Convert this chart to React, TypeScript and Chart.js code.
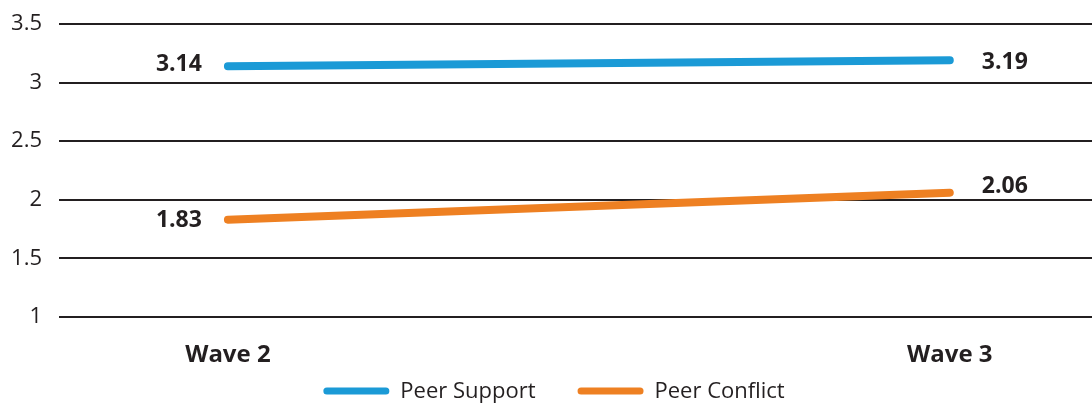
import React, { useEffect, useRef } from "react";
import { Chart, registerables } from "chart.js";

Chart.register(...registerables);

const waves = ["Wave 2", "Wave 3"];
const peerSupport = [3.14, 3.19];
const peerConflict = [1.83, 2.06];
const yTicks = [1, 1.5, 2, 2.5, 3, 3.5];

const FONT = "'Open Sans', 'Noto Sans', sans-serif";
const BLUE = "#1b9ad6";
const ORANGE = "#ee8022";
const TEXT = "#231f20";

const labelPlugin = {
  id: "valueLabels",
  afterDatasetsDraw(chart: any) {
    const ctx = chart.ctx;
    ctx.save();
    ctx.font = `bold 23px ${FONT}`;
    ctx.fillStyle = TEXT;
    ctx.textBaseline = "middle";
    chart.data.datasets.forEach((ds: any, di: number) => {
      const meta = chart.getDatasetMeta(di);
      meta.data.forEach((pt: any, i: number) => {
        const v = ds.data[i].y;
        const txt = v.toFixed(2);
        if (i === 0) {
          ctx.textAlign = "right";
          ctx.fillText(txt, pt.x - 26, pt.y + (di === 1 ? 1 : -2));
        } else {
          ctx.textAlign = "left";
          ctx.fillText(txt, pt.x + 32, pt.y + (di === 1 ? -6 : 2));
        }
      });
    });
    ctx.restore();
  },
};

const legendPlugin = {
  id: "bottomLegend",
  afterDraw(chart: any) {
    const ctx = chart.ctx;
    const boxW = 66;
    const boxH = 7;
    const gap = 11;
    const itemGap = 42;
    const cy = 391;
    const centerX = 554;
    ctx.save();
    ctx.font = `22px ${FONT}`;
    ctx.textBaseline = "middle";
    ctx.textAlign = "left";
    const items = chart.data.datasets.map((ds: any) => ({
      label: ds.label,
      color: ds.borderColor,
      w: ctx.measureText(ds.label).width,
    }));
    const total =
      items.reduce((s: number, it: any) => s + boxW + gap + it.w, 0) +
      itemGap * (items.length - 1);
    let x = centerX - total / 2;
    items.forEach((it: any) => {
      ctx.fillStyle = it.color;
      ctx.beginPath();
      (ctx as any).roundRect(x, cy - boxH / 2, boxW, boxH, boxH / 2);
      ctx.fill();
      ctx.fillStyle = TEXT;
      ctx.fillText(it.label, x + boxW + gap, cy + 1);
      x += boxW + gap + it.w + itemGap;
    });
    ctx.restore();
  },
};

export default function App() {
  const ref = useRef<HTMLCanvasElement>(null);
  useEffect(() => {
    document.body.style.margin = "0";
    const chart = new Chart(ref.current!, {
      type: "line",
      data: {
        datasets: [
          {
            label: "Peer Support",
            data: peerSupport.map((y, i) => ({ x: i, y })),
            borderColor: BLUE,
            backgroundColor: BLUE,
            borderWidth: 8,
            borderCapStyle: "round",
            pointRadius: 0,
          },
          {
            label: "Peer Conflict",
            data: peerConflict.map((y, i) => ({ x: i, y })),
            borderColor: ORANGE,
            backgroundColor: ORANGE,
            borderWidth: 8,
            borderCapStyle: "round",
            pointRadius: 0,
          },
        ],
      },
      options: {
        animation: false,
        responsive: false,
        maintainAspectRatio: false,
        layout: { autoPadding: false, padding: { top: 24, right: 0, bottom: 36, left: 0 } },
        plugins: {
          tooltip: { enabled: false },
          legend: { display: false },
        },
        scales: {
          x: {
            type: "linear",
            min: -0.234,
            max: 1.197,
            grid: { display: false },
            border: { display: false },
            afterBuildTicks: (scale: any) => {
              scale.ticks = waves.map((_, i) => ({ value: i }));
            },
            afterFit: (scale: any) => {
              scale.height = 53;
              scale.paddingLeft = 0;
              scale.paddingRight = 0;
            },
            ticks: {
              padding: 16,
              maxRotation: 0,
              color: TEXT,
              font: { family: FONT, size: 24, weight: "bold" },
              callback: (v: any) => waves[v] ?? "",
            },
          },
          y: {
            min: 1,
            max: 3.5,
            afterBuildTicks: (scale: any) => {
              scale.ticks = yTicks.map((v) => ({ value: v }));
            },
            afterFit: (scale: any) => {
              scale.width = 59;
              scale.paddingTop = 0;
              scale.paddingBottom = 0;
            },
            grid: { color: TEXT, lineWidth: 2, drawTicks: false },
            border: { display: false },
            ticks: {
              padding: 17,
              color: TEXT,
              font: { family: FONT, size: 22 },
              callback: (v: any) => String(v),
            },
          },
        },
      } as any,
      plugins: [labelPlugin, legendPlugin],
    });
    return () => chart.destroy();
  }, []);
  return <canvas ref={ref} width={1092} height={406} style={{ display: "block" }} />;
}
